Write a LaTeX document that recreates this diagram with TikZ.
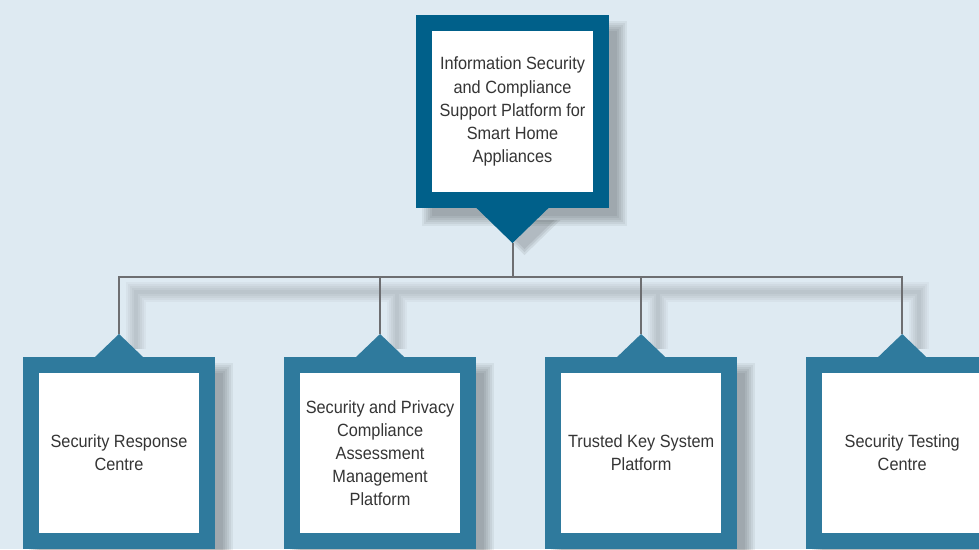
\documentclass[tikz,border=0pt]{standalone}
\usepackage{fontspec}
\setmainfont{Liberation Sans}[FakeStretch=0.92]
\usetikzlibrary{calc,positioning}
\definecolor{bgblue}{HTML}{DEEAF2}
\definecolor{headblue}{HTML}{00608A}
\definecolor{boxblue}{HTML}{2F7A9D}
\definecolor{wiregrey}{HTML}{6D6E71}
\definecolor{txtgrey}{HTML}{353535}
\pgfdeclarelayer{back}
\pgfdeclarelayer{shade}
\pgfsetlayers{back,shade,main}
\tikzset{
  unitbox/.style={draw=boxblue, fill=white, line width=0.4cm, outer sep=0.2cm,
    minimum width=4.4cm, minimum height=4.4cm, inner sep=0pt,
    align=center, text=txtgrey,
    font=\fontsize{12.6}{16.4}\selectfont},
  headbox/.style={unitbox, draw=headblue, minimum height=4.425cm},
  wire/.style={draw=wiregrey, line width=0.05cm},
  wireshade/.style={draw=black, opacity=0.03},
}

\begin{document}
\begin{tikzpicture}[x=0.025cm,y=-0.025cm]
  \useasboundingbox (0,0) rectangle (979,549);
  \begin{pgfonlayer}{back}
    \fill[bgblue] (0,0) rectangle (979,549);
  \end{pgfonlayer}
  % head
  \node[headbox] (head) at (512.5,111.5) {Information Security\\and Compliance\\Support Platform for\\Smart Home\\Appliances};
  \fill[headblue] ($(head.south)+(-36,0)$) -- ($(head.south)+(0,35)$) coordinate (tip) -- ($(head.south)+(36,0)$) -- cycle;
  % units
  \node[unitbox] (resp) at (119,453) {Security Response\\Centre};
  \node[unitbox, right=1.725cm of resp] (priv) {Security and Privacy\\Compliance\\Assessment\\Management\\Platform};
  \node[unitbox, right=1.725cm of priv] (keys) {Trusted Key System\\Platform};
  \node[unitbox, right=1.725cm of keys] (test) {Security Testing\\Centre};
  \foreach \n in {resp,priv,keys,test}
    \fill[boxblue] ($(\n.north)+(-24,0)$) -- ($(\n.north)+(0,-23)$) coordinate (\n-tip) -- ($(\n.north)+(24,0)$) -- cycle;
  % wires
  \draw[wire] (tip) -- ++(0,34) coordinate (bus);
  \draw[wire] (resp-tip) |- (bus) -| (test-tip);
  \draw[wire] (priv-tip) -- (priv-tip |- bus);
  \draw[wire] (keys-tip) -- (keys-tip |- bus);
  % shadows
  \begin{pgfonlayer}{shade}
    \foreach \n in {head,resp,priv,keys,test}
      \foreach \s in {0,2,...,10}
        \fill[black, opacity=0.05] ($(\n.north west)+(6+\s,6+\s)$) rectangle ($(\n.south east)+(18-\s,18-\s)$);
    \foreach \s in {0,3,6}
      \fill[black, opacity=0.07] ($(head.south)+(-36+12+\s,12)$) -- ($(tip)+(12,12-\s)$) -- ($(head.south)+(36+12-\s,12)$) -- cycle;
    \foreach \w in {4,8,12,16,20}
      \draw[wireshade, line width=\w*0.025cm]
        ($(resp-tip)+(17,15)$) |- ($(bus)+(17,15)$) -| ($(test-tip)+(17,15)$)
        ($(priv-tip)+(17,15)$) -- ($(priv-tip |- bus)+(17,15)$)
        ($(keys-tip)+(17,15)$) -- ($(keys-tip |- bus)+(17,15)$);
  \end{pgfonlayer}
\end{tikzpicture}
\end{document}
